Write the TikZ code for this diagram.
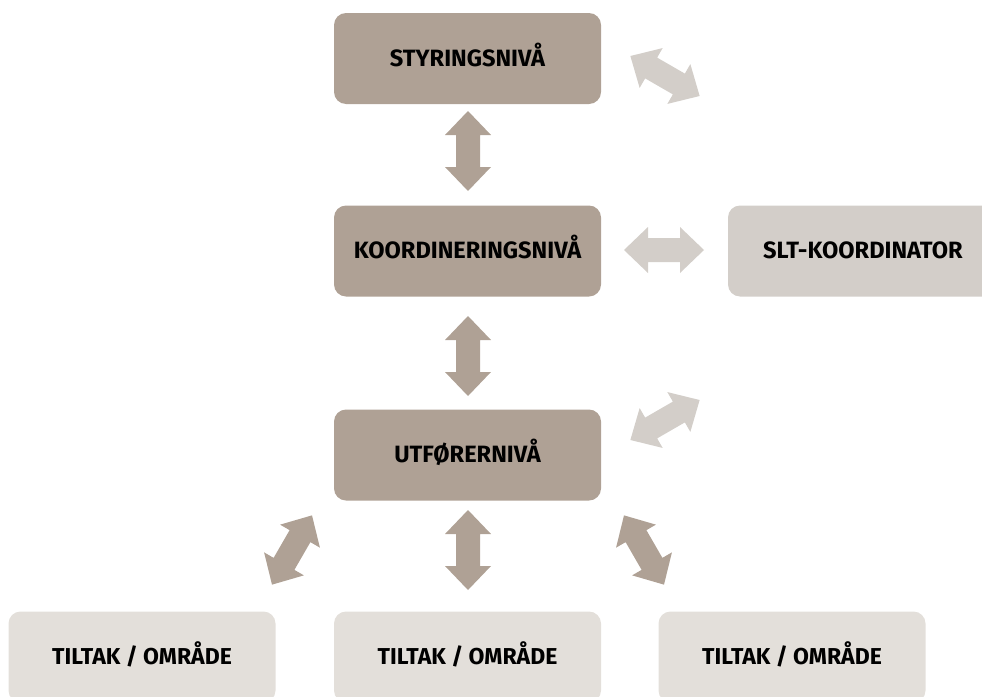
\documentclass[tikz,border=0pt]{standalone}
\usepackage{fontspec}
\setmainfont{Fira Sans}
\definecolor{taupe}{HTML}{AFA195}
\definecolor{greylt}{HTML}{D3CEC9}
\definecolor{sandlt}{HTML}{E3DFDA}
\tikzset{
  levelbox/.style={rounded corners=12pt, minimum width=267pt, minimum height=91pt, inner sep=0pt,
    text height=15pt, text depth=0pt,
    text=black, font=\bfseries\fontsize{23.6}{26}\selectfont},
  dblarrow/.pic={\fill (-40,0) -- (-16,-23) -- (-16,-12) -- (16,-12) -- (16,-23) -- (40,0)
     -- (16,23) -- (16,12) -- (-16,12) -- (-16,23) -- cycle;}
}
\begin{document}
\begin{tikzpicture}[x=1pt,y=-1pt]
\useasboundingbox (0,0) rectangle (982,696);
\node[levelbox, fill=taupe] (styr) at (467.5,58.5) {STYRINGSNIVÅ};
\node[levelbox, fill=taupe] (koord) at (467.5,251) {KOORDINERINGSNIVÅ};
\node[levelbox, fill=taupe] (utf) at (467.5,455) {UTFØRERNIVÅ};
\node[levelbox, fill=greylt, text width=267pt, align=left] (slt) at (861.5,251) {\hspace*{35pt}SLT-KOORDINATOR};
\node[levelbox, fill=sandlt, font=\bfseries\fontsize{23}{26}\selectfont] (t1) at (142,657) {TILTAK / OMRÅDE};
\node[levelbox, fill=sandlt, font=\bfseries\fontsize{23}{26}\selectfont] (t2) at (467.5,657) {TILTAK / OMRÅDE};
\node[levelbox, fill=sandlt, font=\bfseries\fontsize{23}{26}\selectfont] (t3) at (792,657) {TILTAK / OMRÅDE};
\pic[fill=taupe, rotate=90] at (468,151) {dblarrow};
\pic[fill=taupe, rotate=90] at (468,356) {dblarrow};
\pic[fill=taupe, rotate=90] at (468,550) {dblarrow};
\pic[fill=greylt] at (664,250) {dblarrow};
\pic[fill=greylt, rotate=-30] at (665,76) {dblarrow};
\pic[fill=greylt, rotate=30] at (665,420) {dblarrow};
\pic[fill=taupe, rotate=60] at (292,550) {dblarrow};
\pic[fill=taupe, rotate=-60] at (644,550) {dblarrow};
\end{tikzpicture}
\end{document}
